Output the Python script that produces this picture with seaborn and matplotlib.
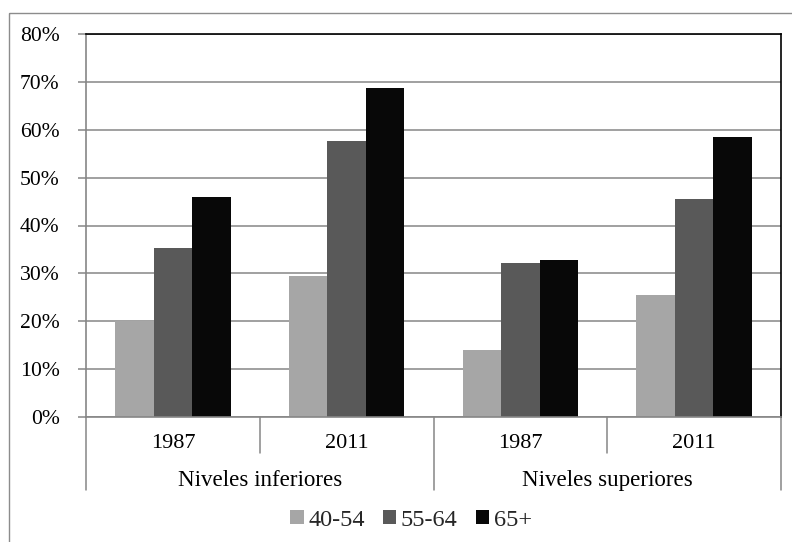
import matplotlib
matplotlib.use("Agg")
import matplotlib.pyplot as plt
from matplotlib.patches import Patch, Rectangle
from matplotlib.ticker import PercentFormatter
import seaborn as sns
import pandas as pd

# Data: share by age group, level and year
groups = ["Niveles inferiores", "Niveles superiores"]
years = ["1987", "2011"]
ages = ["40-54", "55-64", "65+"]
vals_40_54 = [0.200, 0.295, 0.140, 0.255]
vals_55_64 = [0.352, 0.576, 0.322, 0.455]
vals_65_plus = [0.459, 0.688, 0.328, 0.585]
colors = ["#A6A6A6", "#595959", "#080808"]

cats = [f"{g} {y}" for g in groups for y in years]
rows = []
for age, series in zip(ages, [vals_40_54, vals_55_64, vals_65_plus]):
    for c, v in zip(cats, series):
        rows.append({"cat": c, "age": age, "val": v})
df = pd.DataFrame(rows)

sns.set_theme(style="white")
plt.rcParams["font.family"] = ["Liberation Serif", "DejaVu Serif"]

W, H = 792, 542
fig = plt.figure(figsize=(W / 100, H / 100), dpi=100)
fig.patch.set_facecolor("white")

# outer chart frame
fig.add_artist(Rectangle((9 / W, 1 - 13 / H), 1.2, -1.2, transform=fig.transFigure,
                         fill=False, edgecolor="#8C8C8C", linewidth=1.0))

left, right, top, bottom = 86, 781, 34, 417
ax = fig.add_axes([left / W, 1 - bottom / H, (right - left) / W, (bottom - top) / H])

sns.barplot(data=df, x="cat", y="val", hue="age", order=cats, hue_order=ages,
            palette=dict(zip(ages, colors)), width=0.665, gap=0, linewidth=0,
            saturation=1, ax=ax, legend=False)

grid_c = "#868686"
ax.set_ylim(0, 0.8)
ax.set_xlim(-0.5, 3.5)
ax.set_yticks([i / 10 for i in range(9)])
ax.yaxis.set_major_formatter(PercentFormatter(1.0, decimals=0))
ax.yaxis.grid(True, color=grid_c, linewidth=1.1)
ax.set_axisbelow(True)
ax.set_xlabel("")
ax.set_ylabel("")
ax.set_xticks([])

for side in ["top", "right"]:
    ax.spines[side].set_visible(True)
    ax.spines[side].set_color("#000000")
    ax.spines[side].set_linewidth(1.2)
for side in ["left", "bottom"]:
    ax.spines[side].set_color(grid_c)
    ax.spines[side].set_linewidth(1.2)

ax.tick_params(axis="y", which="major", direction="out", length=6, width=1.1,
               color=grid_c, pad=13, labelsize=15.6, labelcolor="#000000", left=True)

# multi-level category axis
tr = ax.get_xaxis_transform()
for x in [-0.5, 1.5, 3.5]:
    ax.plot([x, x], [0, -0.19], transform=tr, color=grid_c, lw=1.1, clip_on=False)
for x in [0.5, 2.5]:
    ax.plot([x, x], [0, -0.094], transform=tr, color=grid_c, lw=1.1, clip_on=False)
for i, c in enumerate(cats):
    ax.text(i, -0.068, years[i % 2], transform=tr, ha="center", va="center",
            fontsize=16, color="#000000")
for j, g in enumerate(groups):
    ax.text(2 * j + 0.5, -0.166, g, transform=tr, ha="center", va="center",
            fontsize=16.6, color="#000000")

handles = [Patch(facecolor=c, edgecolor="none", label=a) for a, c in zip(ages, colors)]
fig.legend(handles=handles, loc="center", bbox_to_anchor=(411 / W, 1 - 520 / H),
           ncol=3, frameon=False, fontsize=17.5, handlelength=0.56, handleheight=0.56,
           handletextpad=0.18, columnspacing=0.75, borderpad=0)

fig.savefig("out.png", dpi=100)
